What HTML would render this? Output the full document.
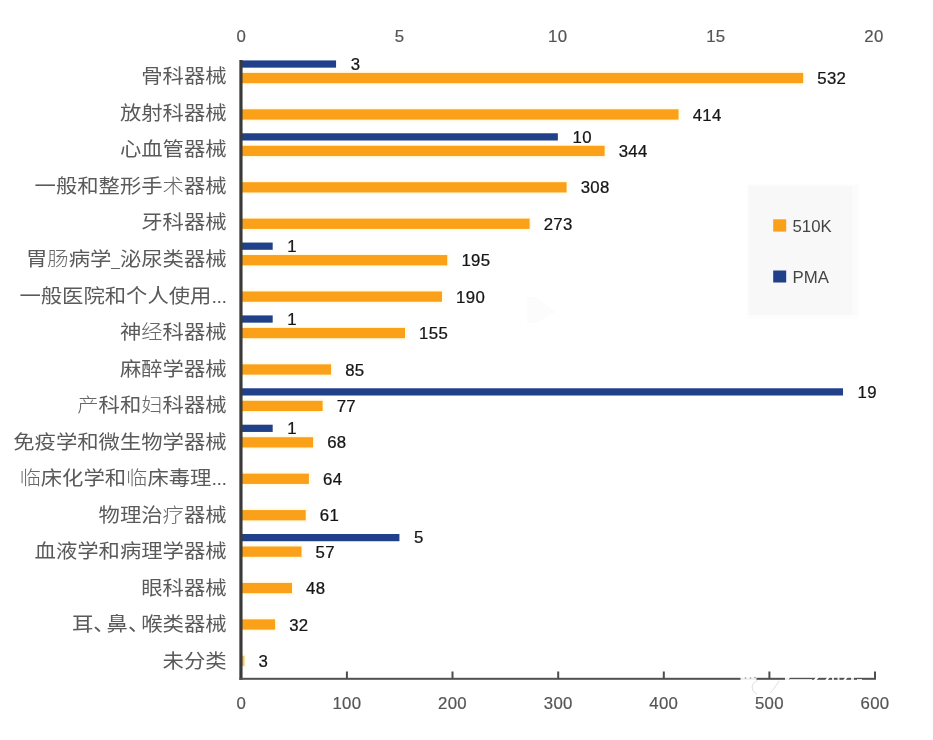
<!DOCTYPE html>
<html lang="zh-CN">
<head>
<meta charset="utf-8">
<title>510K / PMA</title>
<style>
html,body{margin:0;padding:0;background:#fff;}
body{width:933px;height:740px;overflow:hidden;position:relative;}
svg{position:absolute;left:0;top:0;display:block;}
.cat{font-family:"Liberation Sans","Noto Sans CJK SC",sans-serif;font-size:21.35px;font-weight:400;fill:#5a5a5a;text-anchor:end;}
.el{font-size:20px;letter-spacing:-0.5px;}
.us{font-size:15.5px;}
.lt{font-weight:300;fill:#686868;}
.ax{font-family:"Liberation Sans",sans-serif;font-size:16.8px;fill:#555;stroke:#555;stroke-width:0.2px;text-anchor:middle;letter-spacing:0.3px;}
.dl{font-family:"Liberation Sans",sans-serif;font-size:16.8px;fill:#151515;stroke:#151515;stroke-width:0.25px;text-anchor:start;letter-spacing:0.3px;}
.lg{font-family:"Liberation Sans",sans-serif;font-size:16.8px;fill:#444;text-anchor:start;}
</style>
</head>
<body>
<svg width="933" height="740" viewBox="0 0 933 740">
<rect x="0" y="0" width="933" height="740" fill="#ffffff"/>

<rect x="746.5" y="184" width="113.5" height="135" rx="2" fill="#fdfdfd"/>
<rect x="748.8" y="186" width="109.2" height="129" fill="#fbfbfb"/>
<rect x="748.8" y="186" width="103.2" height="129" fill="#f8f8f8"/>
<polygon points="527,297 536,297 556,312 536,323 527,323" fill="#fcfcfc"/>
<rect x="773.2" y="219.3" width="13" height="12.3" fill="#FAA119"/>
<text class="lg" x="792.5" y="232.1">510K</text>
<rect x="773.2" y="270.5" width="13" height="12" fill="#21408A"/>
<text class="lg" x="792.5" y="283.4">PMA</text>
<rect x="241.3" y="69.90" width="564.88" height="16.3" fill="#fffef6"/>
<rect x="241.3" y="71.40" width="563.38" height="13.3" fill="#fffbe8"/>
<rect x="241.3" y="72.90" width="561.88" height="10.3" fill="#FAA119"/>
<text class="dl" transform="translate(817.3,84.0) scale(1,0.93)">532</text>
<rect x="241.3" y="60.40" width="94.76" height="7.25" fill="#21408A"/>
<text class="dl" transform="translate(350.7,69.7) scale(1,0.93)">3</text>
<text class="cat" transform="translate(226.6,83.3) scale(1,0.92)">骨科器械</text>
<rect x="241.3" y="106.33" width="440.25" height="16.3" fill="#fffef6"/>
<rect x="241.3" y="107.83" width="438.75" height="13.3" fill="#fffbe8"/>
<rect x="241.3" y="109.33" width="437.25" height="10.3" fill="#FAA119"/>
<text class="dl" transform="translate(692.7,120.5) scale(1,0.93)">414</text>
<text class="cat" transform="translate(226.6,119.8) scale(1,0.92)">放射科器械</text>
<rect x="241.3" y="142.76" width="366.32" height="16.3" fill="#fffef6"/>
<rect x="241.3" y="144.26" width="364.82" height="13.3" fill="#fffbe8"/>
<rect x="241.3" y="145.76" width="363.32" height="10.3" fill="#FAA119"/>
<text class="dl" transform="translate(618.7,156.9) scale(1,0.93)">344</text>
<rect x="241.3" y="133.26" width="316.55" height="7.25" fill="#21408A"/>
<text class="dl" transform="translate(572.5,142.6) scale(1,0.93)">10</text>
<text class="cat" transform="translate(226.6,156.4) scale(1,0.92)">心血管器械</text>
<rect x="241.3" y="179.19" width="328.30" height="16.3" fill="#fffef6"/>
<rect x="241.3" y="180.69" width="326.80" height="13.3" fill="#fffbe8"/>
<rect x="241.3" y="182.19" width="325.30" height="10.3" fill="#FAA119"/>
<text class="dl" transform="translate(580.7,193.3) scale(1,0.93)">308</text>
<text class="cat" transform="translate(226.6,192.9) scale(1,0.92)">一般和整形手<tspan class="lt">术</tspan>器械</text>
<rect x="241.3" y="215.62" width="291.33" height="16.3" fill="#fffef6"/>
<rect x="241.3" y="217.12" width="289.83" height="13.3" fill="#fffbe8"/>
<rect x="241.3" y="218.62" width="288.33" height="10.3" fill="#FAA119"/>
<text class="dl" transform="translate(543.7,229.8) scale(1,0.93)">273</text>
<text class="cat" transform="translate(226.6,229.4) scale(1,0.92)">牙科器械</text>
<rect x="241.3" y="252.05" width="208.95" height="16.3" fill="#fffef6"/>
<rect x="241.3" y="253.55" width="207.45" height="13.3" fill="#fffbe8"/>
<rect x="241.3" y="255.05" width="205.95" height="10.3" fill="#FAA119"/>
<text class="dl" transform="translate(461.4,266.2) scale(1,0.93)">195</text>
<rect x="241.3" y="242.55" width="31.39" height="7.25" fill="#21408A"/>
<text class="dl" transform="translate(287.3,251.9) scale(1,0.93)">1</text>
<text class="cat" transform="translate(226.6,265.9) scale(1,0.92)">胃<tspan class="lt">肠</tspan>病学<tspan class="us">_</tspan>泌尿类器械</text>
<rect x="241.3" y="288.48" width="203.67" height="16.3" fill="#fffef6"/>
<rect x="241.3" y="289.98" width="202.17" height="13.3" fill="#fffbe8"/>
<rect x="241.3" y="291.48" width="200.67" height="10.3" fill="#FAA119"/>
<text class="dl" transform="translate(456.1,302.6) scale(1,0.93)">190</text>
<text class="cat" transform="translate(226.6,302.5) scale(1,0.92)">一般医院和个人使用<tspan class="el">...</tspan></text>
<rect x="241.3" y="324.91" width="166.71" height="16.3" fill="#fffef6"/>
<rect x="241.3" y="326.41" width="165.21" height="13.3" fill="#fffbe8"/>
<rect x="241.3" y="327.91" width="163.71" height="10.3" fill="#FAA119"/>
<text class="dl" transform="translate(419.1,339.1) scale(1,0.93)">155</text>
<rect x="241.3" y="315.41" width="31.39" height="7.25" fill="#21408A"/>
<text class="dl" transform="translate(287.3,324.7) scale(1,0.93)">1</text>
<text class="cat" transform="translate(226.6,339.0) scale(1,0.92)">神<tspan class="lt">经</tspan>科器械</text>
<rect x="241.3" y="361.34" width="92.77" height="16.3" fill="#fffef6"/>
<rect x="241.3" y="362.84" width="91.27" height="13.3" fill="#fffbe8"/>
<rect x="241.3" y="364.34" width="89.77" height="10.3" fill="#FAA119"/>
<text class="dl" transform="translate(345.2,375.5) scale(1,0.93)">85</text>
<text class="cat" transform="translate(226.6,375.5) scale(1,0.92)">麻醉学器械</text>
<rect x="241.3" y="397.77" width="84.32" height="16.3" fill="#fffef6"/>
<rect x="241.3" y="399.27" width="82.82" height="13.3" fill="#fffbe8"/>
<rect x="241.3" y="400.77" width="81.32" height="10.3" fill="#FAA119"/>
<text class="dl" transform="translate(336.7,411.9) scale(1,0.93)">77</text>
<rect x="241.3" y="388.27" width="601.72" height="7.25" fill="#21408A"/>
<text class="dl" transform="translate(857.6,397.6) scale(1,0.93)">19</text>
<text class="cat" transform="translate(226.6,412.1) scale(1,0.92)"><tspan class="lt">产</tspan>科和<tspan class="lt">妇</tspan>科器械</text>
<rect x="241.3" y="434.20" width="74.82" height="16.3" fill="#fffef6"/>
<rect x="241.3" y="435.70" width="73.32" height="13.3" fill="#fffbe8"/>
<rect x="241.3" y="437.20" width="71.82" height="10.3" fill="#FAA119"/>
<text class="dl" transform="translate(327.2,448.4) scale(1,0.93)">68</text>
<rect x="241.3" y="424.70" width="31.39" height="7.25" fill="#21408A"/>
<text class="dl" transform="translate(287.3,434.0) scale(1,0.93)">1</text>
<text class="cat" transform="translate(226.6,448.6) scale(1,0.92)">免疫学和微生物学器械</text>
<rect x="241.3" y="470.63" width="70.59" height="16.3" fill="#fffef6"/>
<rect x="241.3" y="472.13" width="69.09" height="13.3" fill="#fffbe8"/>
<rect x="241.3" y="473.63" width="67.59" height="10.3" fill="#FAA119"/>
<text class="dl" transform="translate(323.0,484.8) scale(1,0.93)">64</text>
<text class="cat" transform="translate(226.6,485.1) scale(1,0.92)"><tspan class="lt">临</tspan>床化学和<tspan class="lt">临</tspan>床毒理<tspan class="el">...</tspan></text>
<rect x="241.3" y="507.06" width="67.43" height="16.3" fill="#fffef6"/>
<rect x="241.3" y="508.56" width="65.93" height="13.3" fill="#fffbe8"/>
<rect x="241.3" y="510.06" width="64.43" height="10.3" fill="#FAA119"/>
<text class="dl" transform="translate(319.8,521.2) scale(1,0.93)">61</text>
<text class="cat" transform="translate(226.6,521.7) scale(1,0.92)">物理治<tspan class="lt">疗</tspan>器械</text>
<rect x="241.3" y="543.49" width="63.20" height="16.3" fill="#fffef6"/>
<rect x="241.3" y="544.99" width="61.70" height="13.3" fill="#fffbe8"/>
<rect x="241.3" y="546.49" width="60.20" height="10.3" fill="#FAA119"/>
<text class="dl" transform="translate(315.6,557.6) scale(1,0.93)">57</text>
<rect x="241.3" y="533.99" width="158.12" height="7.25" fill="#21408A"/>
<text class="dl" transform="translate(414.0,543.3) scale(1,0.93)">5</text>
<text class="cat" transform="translate(226.6,558.2) scale(1,0.92)">血液学和病理学器械</text>
<rect x="241.3" y="579.92" width="53.70" height="16.3" fill="#fffef6"/>
<rect x="241.3" y="581.42" width="52.20" height="13.3" fill="#fffbe8"/>
<rect x="241.3" y="582.92" width="50.70" height="10.3" fill="#FAA119"/>
<text class="dl" transform="translate(306.1,594.1) scale(1,0.93)">48</text>
<text class="cat" transform="translate(226.6,594.7) scale(1,0.92)">眼科器械</text>
<rect x="241.3" y="616.35" width="36.80" height="16.3" fill="#fffef6"/>
<rect x="241.3" y="617.85" width="35.30" height="13.3" fill="#fffbe8"/>
<rect x="241.3" y="619.35" width="33.80" height="10.3" fill="#FAA119"/>
<text class="dl" transform="translate(289.2,630.5) scale(1,0.93)">32</text>
<text class="cat" transform="translate(226.6,631.2) scale(1,0.92)">耳、<tspan dx="-8">鼻、</tspan><tspan dx="-8">喉</tspan>类器械</text>
<rect x="241.3" y="652.78" width="6.17" height="16.3" fill="#fffef6"/>
<rect x="241.3" y="654.28" width="4.67" height="13.3" fill="#fffbe8"/>
<rect x="241.3" y="655.78" width="3.17" height="10.3" fill="#F2C766"/>
<text class="dl" transform="translate(258.6,666.9) scale(1,0.93)">3</text>
<text class="cat" transform="translate(226.6,667.8) scale(1,0.92)">未分类</text>
<rect x="239.35" y="60" width="3.2" height="619.8" fill="#3a3a3a"/>
<rect x="239.35" y="677.8" width="636.6" height="2.0" fill="#505050"/>
<rect x="345.9" y="671.5" width="2" height="7" fill="#4d4d4d"/>
<rect x="451.5" y="671.5" width="2" height="7" fill="#4d4d4d"/>
<rect x="557.2" y="671.5" width="2" height="7" fill="#4d4d4d"/>
<rect x="662.8" y="671.5" width="2" height="7" fill="#4d4d4d"/>
<rect x="768.4" y="671.5" width="2" height="7" fill="#4d4d4d"/>
<rect x="874.0" y="671.5" width="2" height="7" fill="#4d4d4d"/>
<text class="ax" transform="translate(241.3,708.7) scale(1,0.93)">0</text>
<text class="ax" transform="translate(346.9,708.7) scale(1,0.93)">100</text>
<text class="ax" transform="translate(452.5,708.7) scale(1,0.93)">200</text>
<text class="ax" transform="translate(558.2,708.7) scale(1,0.93)">300</text>
<text class="ax" transform="translate(663.8,708.7) scale(1,0.93)">400</text>
<text class="ax" transform="translate(769.4,708.7) scale(1,0.93)">500</text>
<text class="ax" transform="translate(875.0,708.7) scale(1,0.93)">600</text>
<text class="ax" transform="translate(241.3,42.0) scale(1,0.93)">0</text>
<text class="ax" transform="translate(399.5,42.0) scale(1,0.93)">5</text>
<text class="ax" transform="translate(557.7,42.0) scale(1,0.93)">10</text>
<text class="ax" transform="translate(715.8,42.0) scale(1,0.93)">15</text>
<text class="ax" transform="translate(874.0,42.0) scale(1,0.93)">20</text>
<g fill="#ffffff">
<rect x="740.5" y="676" width="16" height="5.5" opacity="0.9"/>
<rect x="785" y="676" width="4.5" height="5.5" opacity="0.9"/>
<rect x="790" y="679" width="22" height="2" opacity="0.8"/>
<polygon points="812,682 817,676 820,676 815,682"/>
<polygon points="824,682 828,676 830.5,676 826.5,682"/>
<rect x="832" y="676" width="2" height="6" opacity="0.85"/>
<rect x="837.5" y="676" width="2" height="6" opacity="0.85"/>
<polygon points="842,682 846,676 848.5,676 844.5,682"/>
<rect x="851" y="676" width="3" height="6" opacity="0.85"/>
<rect x="857" y="679" width="5" height="2.5" opacity="0.85"/>
</g>
<g fill="none" stroke="#c8c8c8" stroke-width="0.6">
<path d="M757.5 680.5 C751 683 750 691 757 694 M779 681 C776 686 773 690 770 693"/>
</g>
<g fill="#9a9a9a"><circle cx="745.5" cy="678" r="0.8"/><circle cx="750.5" cy="678" r="0.8"/><circle cx="755" cy="677.5" r="0.8"/></g>
</svg>
</body>
</html>
